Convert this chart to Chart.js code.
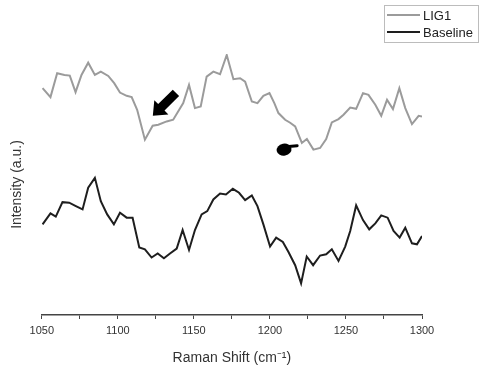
<!DOCTYPE html>
<html>
<head>
<meta charset="utf-8">
<script src="https://cdn.jsdelivr.net/npm/chart.js@4/dist/chart.umd.min.js"></script>
<style>
  html, body { margin: 0; padding: 0; background: #fff; }
  #wrap { width: 481px; height: 369px; }
</style>
</head>
<body>
<div id="wrap"><canvas id="chart1"></canvas></div>
<script>
var ligX = [1050.5, 1055.7, 1060.1, 1064.9, 1068.4, 1072.2, 1076.1, 1080.5, 1084.9, 1088.8,
            1093.7, 1097.6, 1101.4, 1105.8, 1109.1, 1112.7, 1117.8, 1122.9, 1126.6, 1132.1,
            1136.4, 1143.0, 1146.8, 1150.7, 1154.5, 1158.4, 1162.8, 1167.2, 1171.6, 1176.0,
            1180.4, 1183.7, 1188.1, 1191.8, 1195.7, 1199.7, 1202.9, 1205.6, 1210.0, 1213.3,
            1216.6, 1221.0, 1224.3, 1228.6, 1233.0, 1237.0, 1240.7, 1245.1, 1248.4, 1252.8,
            1256.7, 1261.2, 1264.8, 1269.3, 1273.2, 1277.0, 1280.9, 1285.1, 1289.0, 1293.4,
            1297.8, 1300.0];
var ligY = [227.7, 218.7, 242.7, 241, 240.3, 223.7, 241, 253.3, 241, 244.3,
            240, 232.7, 223.3, 220, 218.7, 206, 176, 190, 191, 194.3,
            196, 212.7, 231, 207.7, 209.3, 239.3, 244.3, 241.7, 261, 236.7,
            237.7, 234.3, 214.3, 212.7, 220, 222.7, 212.7, 202.7, 196, 193,
            189.3, 172.7, 176.7, 166, 167.7, 176.7, 193.3, 196.7, 201, 208.3,
            207, 222.7, 221, 211, 200, 216, 206.7, 227.7, 207.7, 191.7,
            200, 199.3];

var baseX = [1050.5, 1055.7, 1059.2, 1063.6, 1068.0, 1072.4, 1076.8, 1080.5, 1084.9, 1088.8,
             1093.0, 1097.4, 1101.4, 1105.8, 1109.7, 1114.1, 1117.8, 1122.2, 1126.2, 1130.3,
             1134.3, 1138.7, 1142.6, 1146.8, 1150.7, 1155.1, 1158.8, 1162.8, 1167.2, 1171.1,
             1175.6, 1179.7, 1183.7, 1188.1, 1191.8, 1195.7, 1200.1, 1204.1, 1208.5, 1212.2,
             1216.6, 1220.5, 1224.2, 1228.4, 1233.0, 1237.0, 1240.7, 1245.1, 1249.5, 1252.8,
             1256.7, 1261.2, 1265.3, 1269.3, 1273.2, 1277.4, 1281.3, 1285.3, 1289.0, 1293.4,
             1296.7, 1300.0];
var baseY = [91, 102, 98.7, 113.3, 112.7, 109.3, 106, 127.7, 137.7, 114.3,
             101, 91, 102.7, 97.7, 97.7, 67.7, 66, 57.7, 61.7, 57,
             61.7, 66.7, 85.3, 65.3, 85.3, 101, 104.3, 116, 122, 121,
             126.7, 122.7, 115.3, 120, 109.3, 91, 68.7, 77.7, 73.3, 63.3,
             50, 31.7, 58.7, 50, 59.7, 61, 66, 54.3, 68.7, 84.3,
             110, 95.3, 86, 92, 100, 97.7, 84.3, 77.7, 87.7, 72,
             71, 79.3];

var seriesNames = ['LIG1', 'Baseline'];
var seriesColors = ['#9b9b9b', '#1e1e1e'];

// arrow annotations, in data units
var arrow1 = { tipX: 1123, tipY: 200, tailX: 1138.2, tailY: 223 };
var arrow2 = { x: 1209.3, y: 166, tipX: 1217.9, tipY: 170 };

function pts(xs, ys) {
    return xs.map(function (x, i) { return { x: x, y: ys[i] }; });
}

var FONT = 'Liberation Sans, Arial, sans-serif';

var boxLegend = {
    id: 'boxLegend',
    afterDraw: function (chart) {
        var c = chart.ctx;
        var right = chart.width - 3, left = right - 94, top = 5, bottom = 42;
        c.save();
        c.strokeStyle = '#bcbcbc';
        c.lineWidth = 1;
        c.strokeRect(left + 0.5, top + 0.5, right - left, bottom - top);
        c.font = '13px ' + FONT;
        c.textBaseline = 'middle';
        chart.data.datasets.forEach(function (ds, i) {
            var y = top + 10 + i * 17;
            c.strokeStyle = ds.borderColor;
            c.lineWidth = 2;
            c.beginPath();
            c.moveTo(left + 3, y);
            c.lineTo(left + 36, y);
            c.stroke();
            c.fillStyle = '#222';
            c.fillText(ds.label, left + 39, y + 1);
        });
        c.restore();
    }
};

var arrows = {
    id: 'arrows',
    afterDatasetsDraw: function (chart) {
        var c = chart.ctx, xs = chart.scales.x, ys = chart.scales.y;
        var tx = xs.getPixelForValue(arrow1.tipX), ty = ys.getPixelForValue(arrow1.tipY);
        var bx = xs.getPixelForValue(arrow1.tailX), by = ys.getPixelForValue(arrow1.tailY);
        var ang = Math.atan2(ty - by, tx - bx);
        var len = Math.hypot(tx - bx, ty - by);
        c.save();
        c.translate(bx, by);
        c.rotate(ang);
        c.fillStyle = '#000';
        c.beginPath();
        c.moveTo(0, -4.5);
        c.lineTo(len - 12, -4.5);
        c.lineTo(len - 12, -10);
        c.lineTo(len, 0);
        c.lineTo(len - 12, 10);
        c.lineTo(len - 12, 4.5);
        c.lineTo(0, 4.5);
        c.closePath();
        c.fill();
        c.restore();

        var hx = xs.getPixelForValue(arrow2.x), hy = ys.getPixelForValue(arrow2.y);
        var fx = xs.getPixelForValue(arrow2.tipX), fy = ys.getPixelForValue(arrow2.tipY);
        c.save();
        c.fillStyle = '#000';
        c.beginPath();
        c.ellipse(hx, hy, 7.5, 6, -0.2, 0, Math.PI * 2);
        c.fill();
        c.strokeStyle = '#000';
        c.lineWidth = 3;
        c.lineCap = 'round';
        c.beginPath();
        c.moveTo(hx + 2, hy - 3);
        c.lineTo(fx, fy);
        c.stroke();
        c.restore();
    }
};

var ctx = document.getElementById('chart1');
var chart = new Chart(ctx, {
    type: 'line',
    data: {
        datasets: [{
            label: seriesNames[0],
            data: pts(ligX, ligY),
            borderColor: seriesColors[0],
            borderWidth: 2
        }, {
            label: seriesNames[1],
            data: pts(baseX, baseY),
            borderColor: seriesColors[1],
            borderWidth: 2
        }]
    },
    options: {
        responsive: true,
        maintainAspectRatio: false,
        animation: false,
        devicePixelRatio: 1,
        elements: { point: { radius: 0 }, line: { tension: 0 } },
        layout: { padding: { top: 54, right: 59, left: 0, bottom: 2 } },
        plugins: {
            legend: { display: false },
            tooltip: { enabled: false }
        },
        scales: {
            x: {
                type: 'linear',
                min: 1050,
                max: 1300,
                grid: { drawOnChartArea: false, drawTicks: true, tickLength: 4, color: '#444' },
                border: { display: true, color: '#444', width: 1.5 },
                ticks: {
                    stepSize: 25,
                    autoSkip: false,
                    maxRotation: 0,
                    padding: 5,
                    color: '#333',
                    font: { family: FONT, size: 11 },
                    callback: function (v) { return v % 50 === 0 ? String(v) : ''; }
                },
                title: {
                    display: true,
                    text: 'Raman Shift (cm\u207B\u00B9)',
                    color: '#333',
                    font: { family: FONT, size: 14 },
                    padding: { top: 8, bottom: 0 }
                }
            },
            y: {
                min: 0,
                max: 262,
                grid: { display: false, drawTicks: false },
                border: { display: false },
                ticks: { display: false },
                title: {
                    display: true,
                    text: 'Intensity (a.u.)',
                    color: '#333',
                    font: { family: FONT, size: 14 },
                    padding: { top: 9, bottom: 16 }
                }
            }
        }
    },
    plugins: [boxLegend, arrows]
});
</script>
</body>
</html>
